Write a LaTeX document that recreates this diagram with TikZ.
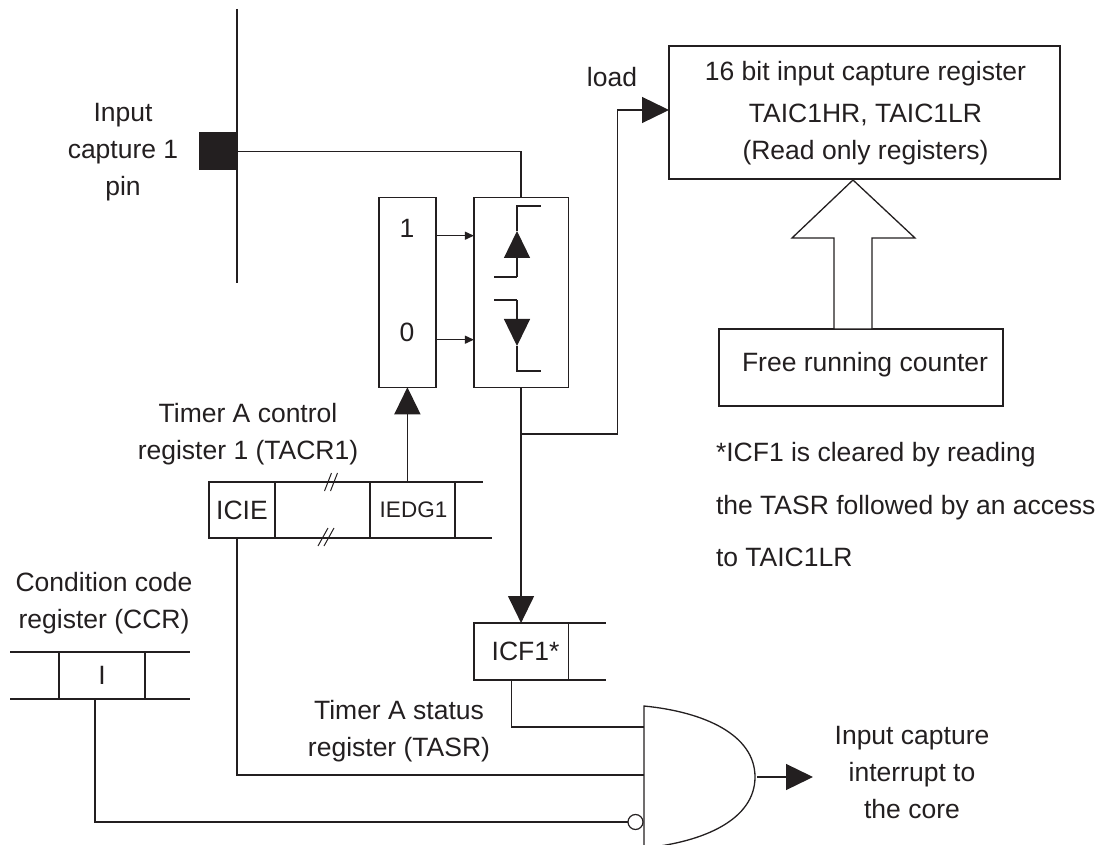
\documentclass[tikz,border=0pt]{standalone}
\usepackage{fontspec}
\setmainfont{Liberation Sans}
\usetikzlibrary{positioning,arrows.meta,calc}
\definecolor{ink}{HTML}{231F20}

\tikzset{
  lbl/.style={inner sep=0pt, outer sep=0pt, align=center, text=ink},
  regbox/.style={draw=ink, line width=1.4pt, inner sep=0pt, outer sep=0pt, text=ink},
  wire/.style={draw=ink, line width=1.3pt},
  smalltip/.style={wire, -{Triangle[length=9pt,width=8pt]}},
  bigtip/.style={wire, -{Triangle[length=27pt,width=26pt]}},
}

\begin{document}
\begin{tikzpicture}[x=1pt, y=-1pt, font=\fontsize{26.5}{37}\selectfont]
    \useasboundingbox (0,0) rectangle (1104,845);

    % pin and bus
    \coordinate (bustop) at (237,9);
    \coordinate (busbot) at (237,283);
    \draw[wire] (bustop) -- (busbot);
    \node[fill=ink, minimum width=39pt, minimum height=38pt, inner sep=0pt, outer sep=0pt] (pin) at (218,151.5) {};
    \node[lbl] (pinlbl) at (123,152) {Input\\ capture 1\\ pin};

    % mux and edge detector
    \node[regbox, minimum width=57pt, minimum height=189.5pt] (mux) at (407.4,292.5) {};
    \node[regbox, minimum width=94.3pt, minimum height=189.5pt, right=38pt of mux] (edge) {};
    \node[lbl] (one) at (407,228) {1};
    \node[lbl] (zero) at (407,332) {0};
    \coordinate (m1) at (mux.east |- 0,235.7);
    \coordinate (m0) at (mux.east |- 0,339.7);
    \draw[smalltip] (m1) -- (m1 -| edge.west);
    \draw[smalltip] (m0) -- (m0 -| edge.west);
    \draw[wire] (pin.east) -| (edge.north);

    % rising and falling symbols
    \coordinate (rise) at (517,231);
    \coordinate (fall) at (517,346);
    \draw[bigtip] (517,277) -- (rise);
    \draw[wire] (494,277) -- (517,277);
    \draw[wire] (rise) -- (517,206) -- (541,206);
    \draw[bigtip] (517,300) -- (fall);
    \draw[wire] (494,300) -- (517,300);
    \draw[wire] (fall) -- (517,371) -- (541,371);

    % capture register and counter
    \node[regbox, minimum width=391pt, minimum height=133pt] (reg) at (864.5,112.5) {};
    \node[lbl] (regtxt) at (865.5,113) {16 bit input capture register\\[5pt] TAIC1HR, TAIC1LR\\ (Read only registers)};
    \node[regbox, minimum width=284pt, minimum height=77pt] (count) at (861,367.5) {};
    \node[lbl] (counttxt) at (865,365) {Free running counter};
    \draw[wire, fill=white] (853,180) -- (915,238) -- (872,238) -- (872,329) -- (834,329) -- (834,238) -- (792,238) -- cycle;
    \node[lbl] (loadlbl) at (612,77) {load};
    \coordinate (tap) at (edge.south |- 0,434);
    \coordinate (bend) at (617.7,110);
    \draw[bigtip] (tap) -| (bend) -- (bend -| reg.west);

    \node[lbl, align=left, anchor=west, font=\fontsize{26.5}{52.5}\selectfont] (note) at (716,505)
         {*ICF1 is cleared by reading\\ the TASR followed by an access\\ to TAIC1LR};

    % TACR1
    \node[lbl] (taclbl) at (248,434) {Timer A control\\ register 1 (TACR1)};
    \node[regbox, minimum width=66pt, minimum height=56pt] (icie) at (242,510) {ICIE};
    \node[regbox, minimum width=85pt, minimum height=56pt, right=95pt of icie, font=\fontsize{22.5}{26}\selectfont] (iedg) {\hspace*{2pt}IEDG1};
    \coordinate (tacrt) at (483,482);
    \coordinate (tacrb) at (492,538);
    \draw[wire] (icie.north east) -- (iedg.north west);
    \draw[wire] (icie.south east) -- (iedg.south west);
    \draw[wire] (iedg.north east) -- (tacrt);
    \draw[wire] (iedg.south east) -- (tacrb);
    \foreach \dx in {0,6} {
      \draw[wire, line width=1pt] (324.5+\dx,491) -- (331.5+\dx,473);
      \draw[wire, line width=1pt] (318+\dx,546) -- (328+\dx,528);
    }
    \draw[bigtip] (mux.south |- iedg.north) -- (mux.south);

    % TASR
    \node[regbox, minimum width=94.5pt, minimum height=57pt] (icf) at (edge.south |- 0,651.5) {\hspace*{9pt}ICF1*};
    \coordinate (icfrt) at (606,623);
    \coordinate (icfrb) at (606,680);
    \draw[wire] (icf.north east) -- (icfrt);
    \draw[wire] (icf.south east) -- (icfrb);
    \draw[bigtip] (edge.south) -- (icf.north);
    \node[lbl] (taslbl) at (399,731) {Timer A status\\ register (TASR)};

    % CCR
    \node[lbl] (ccrlbl) at (104,603) {Condition code\\ register (CCR)};
    \node[regbox, minimum width=86pt, minimum height=47pt] (ibit) at (102,675.5) {I};
    \coordinate (ccrlt) at (10,652);
    \coordinate (ccrlb) at (10,699);
    \coordinate (ccrrt) at (190,652);
    \coordinate (ccrrb) at (190,699);
    \draw[wire] (ccrlt) -- (ibit.north west);
    \draw[wire] (ccrlb) -- (ibit.south west);
    \draw[wire] (ibit.north east) -- (ccrrt);
    \draw[wire] (ibit.south east) -- (ccrrb);

    % gate and inputs
    \draw[wire] (644,848) -- (644,706) .. controls (705,712) and (755,735) .. (755,777)
         .. controls (755,819) and (705,842) .. (644,848);
    \coordinate (g1) at (644,727);
    \coordinate (g2) at (644,775);
    \node[circle, draw=ink, line width=1.2pt, minimum size=15pt, inner sep=0pt, outer sep=0pt] (inv) at (635.5,822) {};
    \draw[wire] ([xshift=-9.5pt]icf.south) |- (g1);
    \draw[wire] ([xshift=-5pt]icie.south) |- (g2);
    \draw[wire] ([xshift=-7pt]ibit.south) |- (inv.west);
    \coordinate (gout) at (757,777);
    \coordinate (irq) at (813,777);
    \draw[bigtip] (gout) -- (irq);
    \node[lbl] (irqlbl) at (912,773) {Input capture\\ interrupt to\\ the core};
  \end{tikzpicture}
\end{document}
